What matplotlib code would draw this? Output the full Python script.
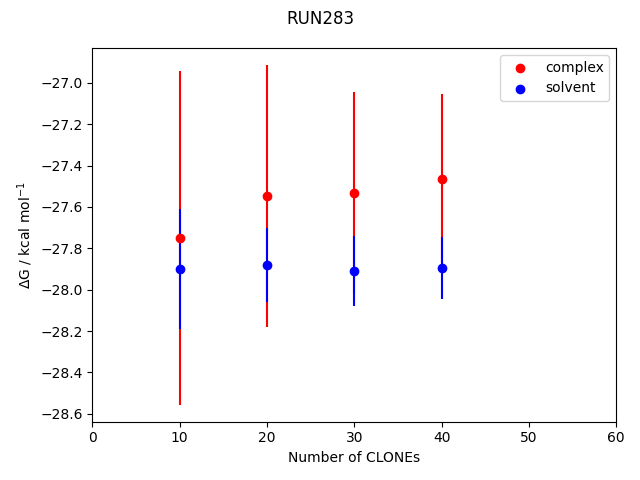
import matplotlib
matplotlib.use("Agg")
import matplotlib.pyplot as plt
from matplotlib.ticker import MultipleLocator

clones = [10, 20, 30, 40]
complex_dg = [-27.75, -27.546, -27.532, -27.465]
complex_err = [0.806, 0.632, 0.489, 0.412]
solvent_dg = [-27.90, -27.88, -27.91, -27.896]
solvent_err = [0.29, 0.18, 0.17, 0.15]

fig, ax = plt.subplots(figsize=(6.4, 4.8), dpi=100)
ax.errorbar(clones, complex_dg, yerr=complex_err, fmt="none", ecolor="red")
ax.errorbar(clones, solvent_dg, yerr=solvent_err, fmt="none", ecolor="blue")
ax.scatter(clones, complex_dg, color="red", label="complex", zorder=3)
ax.scatter(clones, solvent_dg, color="blue", label="solvent", zorder=3)

ax.set_xlim(0, 60)
ax.yaxis.set_major_locator(MultipleLocator(0.2))
ax.set_xlabel("Number of CLONEs")
ax.set_ylabel(r"$\Delta$G / kcal mol$^{-1}$")
ax.legend()
fig.suptitle("RUN283")
fig.tight_layout()
fig.savefig("out.png", dpi=100)
